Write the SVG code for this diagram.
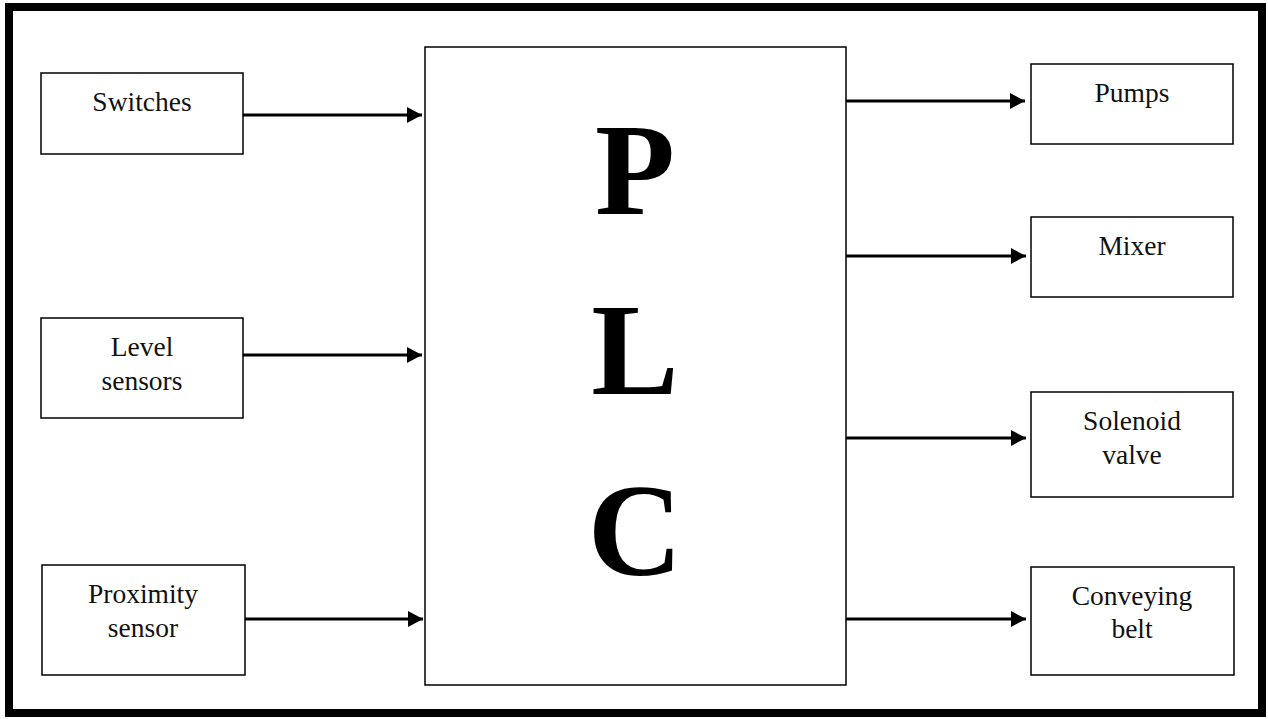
<svg xmlns="http://www.w3.org/2000/svg" width="1268" height="719" viewBox="0 0 1268 719">
<style>
.box{fill:#fff;stroke:#000;stroke-width:1.5}
.lbl{font-family:"Liberation Serif","Times New Roman",serif;font-size:27.5px;fill:#111;text-anchor:middle}
.big{font-family:"Liberation Serif","Times New Roman",serif;font-size:131px;font-weight:bold;fill:#000;text-anchor:middle}
.conn{stroke:#000;stroke-width:3;fill:none;marker-end:url(#ah)}
</style>
<defs>
<marker id="ah" markerUnits="userSpaceOnUse" markerWidth="16" markerHeight="16" refX="15" refY="8" orient="auto">
<path d="M0,0 L15,8 L0,16 Z" fill="#000"/>
</marker>
</defs>
<rect x="0" y="0" width="1268" height="719" fill="#fff"/>
<rect x="9" y="7" width="1253" height="706" fill="none" stroke="#000" stroke-width="8"/>
<g id="connectors">
<line class="conn" x1="243" y1="115" x2="422" y2="115"/>
<line class="conn" x1="243" y1="355" x2="422" y2="355"/>
<line class="conn" x1="245" y1="619" x2="423" y2="619"/>
<line class="conn" x1="846" y1="101" x2="1025" y2="101"/>
<line class="conn" x1="846" y1="256" x2="1026" y2="256"/>
<line class="conn" x1="846" y1="438" x2="1026" y2="438"/>
<line class="conn" x1="846" y1="619" x2="1026" y2="619"/>
</g>
<g id="plc">
<rect class="box" x="425" y="47" width="421" height="638"/>
<text class="big" x="635" y="214">P</text>
<text class="big" x="635" y="394">L</text>
<text class="big" x="635" y="575">C</text>
</g>
<g id="switches">
<rect class="box" x="41" y="73" width="202" height="81"/>
<text class="lbl" x="142" y="111">Switches</text>
</g>
<g id="level-sensors">
<rect class="box" x="41" y="318" width="202" height="100"/>
<text class="lbl" x="142" y="356">Level</text>
<text class="lbl" x="142" y="390">sensors</text>
</g>
<g id="proximity-sensor">
<rect class="box" x="42" y="565" width="203" height="110"/>
<text class="lbl" x="143" y="603">Proximity</text>
<text class="lbl" x="143" y="637">sensor</text>
</g>
<g id="pumps">
<rect class="box" x="1031" y="64" width="202" height="80"/>
<text class="lbl" x="1132" y="102">Pumps</text>
</g>
<g id="mixer">
<rect class="box" x="1031" y="217" width="202" height="80"/>
<text class="lbl" x="1132" y="255">Mixer</text>
</g>
<g id="solenoid-valve">
<rect class="box" x="1031" y="392" width="202" height="105"/>
<text class="lbl" x="1132" y="430">Solenoid</text>
<text class="lbl" x="1132" y="464">valve</text>
</g>
<g id="conveying-belt">
<rect class="box" x="1031" y="567" width="203" height="108"/>
<text class="lbl" x="1132" y="605">Conveying</text>
<text class="lbl" x="1132" y="638">belt</text>
</g>
</svg>
